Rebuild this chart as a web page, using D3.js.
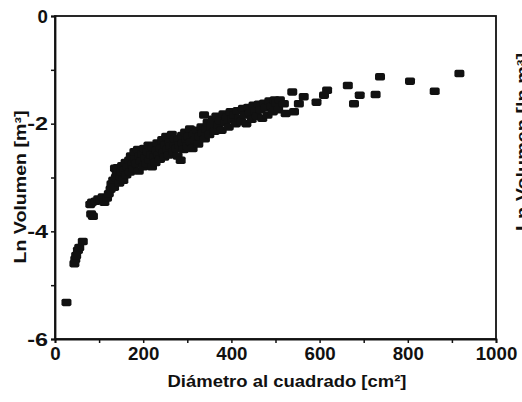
<!DOCTYPE html>
<html>
<head>
<meta charset="utf-8">
<script src="https://cdn.jsdelivr.net/npm/d3@7"></script>
<style>
  body { margin: 0; background: #fff; }
  svg { display: block; }
  text { font-family: "Liberation Sans", Arial, Helvetica, sans-serif; font-weight: bold; fill: #111; }
</style>
</head>
<body>
<svg id="chart" width="522" height="402"></svg>
<script>
// ---- data ----
const diametro = [26,44,46,48,52,55,63,82,86,80,84,92,98,104,108,112,118,122,126,128,132,134,136,138,140,142,146,148,150,152,155,158,160,162,165,168,170,172,175,178,180,182,185,188,190,192,195,198,200,202,205,208,210,212,215,218,220,222,225,228,230,232,235,238,240,243,245,248,250,252,255,258,260,262,265,268,270,272,275,278,280,282,285,288,290,292,295,298,300,303,306,308,312,315,318,322,325,328,332,335,338,340,343,346,350,354,358,362,366,370,374,378,382,386,390,394,398,402,406,410,414,418,422,426,430,434,438,442,446,450,454,458,462,466,470,474,478,482,486,490,494,498,502,506,510,519,523,538,542,553,564,593,610,617,664,678,691,727,737,805,861,917];
const lnVolumen = [-5.32,-4.60,-4.52,-4.45,-4.35,-4.30,-4.19,-3.68,-3.72,-3.50,-3.46,-3.44,-3.40,-3.42,-3.36,-3.46,-3.38,-3.30,-3.22,-3.12,-3.05,-3.18,-2.83,-3.00,-2.92,-2.82,-3.10,-2.98,-2.90,-2.78,-3.05,-2.86,-2.72,-2.95,-2.80,-2.68,-2.90,-2.60,-2.76,-2.84,-2.52,-2.66,-2.74,-2.48,-2.88,-2.60,-2.70,-2.56,-2.80,-2.46,-2.64,-2.74,-2.52,-2.40,-2.68,-2.58,-2.80,-2.44,-2.62,-2.72,-2.50,-2.36,-2.58,-2.66,-2.46,-2.30,-2.54,-2.62,-2.40,-2.24,-2.48,-2.58,-2.34,-2.42,-2.20,-2.52,-2.38,-2.28,-2.46,-2.60,-2.30,-2.40,-2.68,-2.22,-2.36,-2.48,-2.16,-2.30,-2.42,-2.24,-2.10,-2.34,-2.46,-2.20,-2.30,-2.12,-2.38,-2.24,-2.06,-2.18,-1.84,-2.28,-2.10,-1.98,-2.20,-2.04,-1.92,-2.14,-1.86,-2.02,-1.94,-2.12,-1.82,-1.98,-1.88,-2.06,-1.78,-1.92,-1.84,-2.00,-1.76,-1.90,-1.96,-1.72,-1.84,-2.00,-1.70,-1.80,-1.92,-1.66,-1.76,-1.86,-1.64,-1.74,-1.90,-1.62,-1.70,-1.84,-1.58,-1.68,-1.78,-1.56,-1.62,-1.74,-1.56,-1.63,-1.81,-1.41,-1.78,-1.63,-1.50,-1.60,-1.47,-1.38,-1.29,-1.63,-1.47,-1.46,-1.13,-1.21,-1.40,-1.07];
const xTicks = [0, 200, 400, 600, 800, 1000];
const xMinorTicks = [100, 300, 500, 700, 900];
const yTicks = [0, -2, -4, -6];
const yMinorTicks = [-1, -3, -5];
const xTitle = "Diámetro al cuadrado [cm²]";
const yTitle = "Ln Volumen [m³]";
const yTitleRight = "Ln Volumen [ln m³]";

// ---- layout ----
const mLeft = 55, mRight = 496, mTop = 16, mBottom = 339;
const svg = d3.select("#chart");
const x = d3.scaleLinear().domain([0, 1000]).range([mLeft, mRight]);
const y = d3.scaleLinear().domain([-6, 0]).range([mBottom, mTop]);

const ink = "#111";

// frame
svg.append("rect")
  .attr("x", mLeft).attr("y", mTop)
  .attr("width", mRight - mLeft).attr("height", mBottom - mTop)
  .attr("fill", "none").attr("stroke", ink).attr("stroke-width", 1.8);

// x axis
svg.append("g").attr("transform", `translate(0,${mBottom})`)
  .call(d3.axisBottom(x).tickValues(xTicks).tickFormat(d3.format("d")).tickSize(4).tickPadding(4));
svg.append("g").attr("transform", `translate(0,${mBottom})`)
  .call(d3.axisBottom(x).tickValues(xMinorTicks).tickFormat("").tickSize(4))
  .call(g => g.select(".domain").remove());

// y axis
svg.append("g").attr("transform", `translate(${mLeft},0)`)
  .call(d3.axisLeft(y).tickValues(yTicks).tickFormat(d => String(d)).tickSize(4).tickPadding(3));
svg.append("g").attr("transform", `translate(${mLeft},0)`)
  .call(d3.axisLeft(y).tickValues(yMinorTicks).tickFormat("").tickSize(4))
  .call(g => g.select(".domain").remove());

svg.selectAll(".domain").attr("stroke", ink).attr("stroke-width", 1.8);
svg.selectAll(".tick line").attr("stroke", ink).attr("stroke-width", 1.5);
svg.selectAll(".tick text")
  .attr("font-family", "'Liberation Sans', Arial, sans-serif")
  .attr("font-weight", "bold").attr("font-size", 19).attr("fill", ink)
  .each(function() {
    const t = d3.select(this);
    const s = t.text();
    if (s.length) t.attr("textLength", s.length * 10.4).attr("lengthAdjust", "spacingAndGlyphs");
  });

// points
const pts = diametro.map((d, i) => [d, lnVolumen[i]]);
svg.append("g").selectAll("rect").data(pts).join("rect")
  .attr("x", d => x(d[0]) - 5)
  .attr("y", d => y(d[1]) - 3.75)
  .attr("width", 10).attr("height", 7.5)
  .attr("rx", 1.8)
  .attr("fill", ink);

// titles
svg.append("text")
  .attr("x", 287).attr("y", 387)
  .attr("text-anchor", "middle")
  .attr("font-size", 16.5)
  .attr("textLength", 239).attr("lengthAdjust", "spacingAndGlyphs")
  .text(xTitle);

svg.append("text")
  .attr("transform", "translate(26,187) rotate(-90)")
  .attr("text-anchor", "middle")
  .attr("font-size", 16.5)
  .attr("textLength", 153).attr("lengthAdjust", "spacingAndGlyphs")
  .text(yTitle);

svg.append("text")
  .attr("transform", "translate(528,142) rotate(-90)")
  .attr("text-anchor", "middle")
  .attr("font-size", 16.5)
  .attr("textLength", 178).attr("lengthAdjust", "spacingAndGlyphs")
  .text(yTitleRight);
</script>
</body>
</html>
